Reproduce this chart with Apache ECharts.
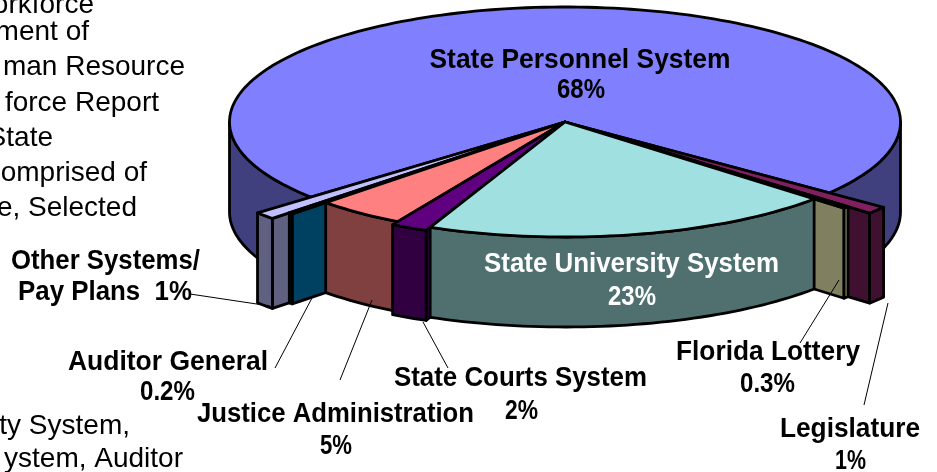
<!DOCTYPE html>
<html><head><meta charset="utf-8">
<style>html,body{margin:0;padding:0;background:#fff}#c{width:937px;height:472px}</style>
<script src="https://cdn.jsdelivr.net/npm/echarts@6/dist/echarts.min.js"></script>
</head><body><div id="c"></div>
<script>
// Data (clockwise from the large back slice)
const categories = ['State Personnel System','Legislature','Florida Lottery','State University System','State Courts System','Justice Administration','Auditor General','Other Systems/ Pay Plans'];
const values = [68,1,0.3,23,2,5,0.2,1];
const valueLabels = ['68%','1%','0.3%','23%','2%','5%','0.2%','1%'];
const topColors = ['#8080ff','#802060','#ffffc0','#a0e0e0','#600080','#ff8080','#0080c0','#c0c0ff'];
const sideColors = ['#40407f','#401030','#807f60','#507070','#300040','#804040','#004060','#606080'];
const explode = [1,1.205,1.12,1,1.03,1,1.14,1.21];
const drawOrder = [0,1,2,7,6,5,4,3];
const bodyLines = [['orkforce',94,4],['ment of',89,31],['man Resource',185,66],['force Report',159,102],['State',53,137],['omprised of',147,172],['e, Selected',137,207],['ty System,',130,425],['ystem, Auditor',183,458]];

const CX=565,CY=122,RX=335.5,RY=115,H=90,START=38,DEG_PER_PCT=3.115;
const rad=d=>d*Math.PI/180;
const pt=(a,r,dy)=>[CX+RX*r*Math.cos(rad(a)),CY+dy+RY*r*Math.sin(rad(a))];
const arc=(a,b,r,dy)=>{const n=Math.max(2,Math.ceil(Math.abs(b-a)/1.5));const o=[];for(let i=0;i<=n;i++)o.push(pt(a+(b-a)*i/n,r,dy));return o;};
// angles: small front slices are proportional; the large back slice takes the remainder
const angles=[];(function(){let a=START;for(let i=1;i<values.length;i++){const b=a+values[i]*DEG_PER_PCT;angles[i]=[a,b];a=b;}angles[0]=[a,START+360];})();
const stroke={stroke:'#000',lineWidth:2.8,lineJoin:'round'};
function poly(points,fill){return {type:'polygon',shape:{points},style:Object.assign({fill},stroke)};}
function renderItem(params,api){
  const i=api.value(0);const [a,b]=angles[i];const r=explode[i];const ch=[];
  const quad=(ang)=>{const p=pt(ang,r,0);return poly([[CX,CY],p,[p[0],p[1]+H],[CX,CY+H]],sideColors[i]);};
  if(i===1||i===2) ch.push(quad(b));
  if(i>=4) ch.push(quad(a));
  const wall=(s,e)=>poly(arc(s,e,r,0).concat(arc(e,s,r,H)),sideColors[i]);
  if(i===0){ch.push(wall(a,180));ch.push(wall(360,b));}
  else ch.push(wall(a,b));
  ch.push(poly([[CX,CY]].concat(arc(a,b,r,0)),topColors[i]));
  return {type:'group',children:ch};
}
const g=[];
const FONT='"Liberation Sans",Arial,sans-serif';
const mctx=document.createElement('canvas').getContext('2d');
mctx.font='bold 28px '+FONT;
function lbl(t,x,y,w,fill){const sx=w/mctx.measureText(t).width;g.push({type:'text',z:10,x,y:y+1,scaleX:sx,style:{text:t,x:0,y:0,fill:fill||'#000',font:'bold 28px '+FONT,textAlign:'center',textVerticalAlign:'middle'}});}
const labelPos=[[580,59,301,581,89,48],[850,428,140,850.5,460,31],[768,351,184,767.5,383,55],[631.5,263,295,632,296,48],[520.5,377,253,521.5,410,33],[335.5,413,277,336,445,32],[168,361,200,167.5,391,55],null];
categories.forEach((c,i)=>{const p=labelPos[i];if(!p)return;const col=i===3?'#fff':'#000';lbl(c,p[0],p[1],p[2],col);lbl(valueLabels[i],p[3],p[4],p[5],col);});
lbl('Other Systems/',105.5,260,189);lbl('Pay Plans  '+valueLabels[7],105,291,174);
bodyLines.forEach(l=>g.push({type:'text',z:10,style:{text:l[0],x:l[1],y:l[2]+1,fill:'#000',font:'28px '+FONT,textAlign:'right',textVerticalAlign:'middle'}}));
[[[190,294],[270,306]],[[275,368],[312,298]],[[340,380],[372,300]],[[448,368],[423,322]],[[800,343],[839,280]],[[864,405],[888,303]]].forEach(l=>g.push({type:'polyline',z:9,shape:{points:l},style:{stroke:'#000',lineWidth:1,fill:null}}));

const chart=echarts.init(document.getElementById('c'),null,{renderer:'canvas'});
chart.setOption({animation:false,backgroundColor:'#fff',graphic:g,
 series:[{type:'custom',coordinateSystem:'none',renderItem,clip:false,encode:{},data:drawOrder.map(i=>[i,values[i],categories[i]])}]});
</script></body></html>
